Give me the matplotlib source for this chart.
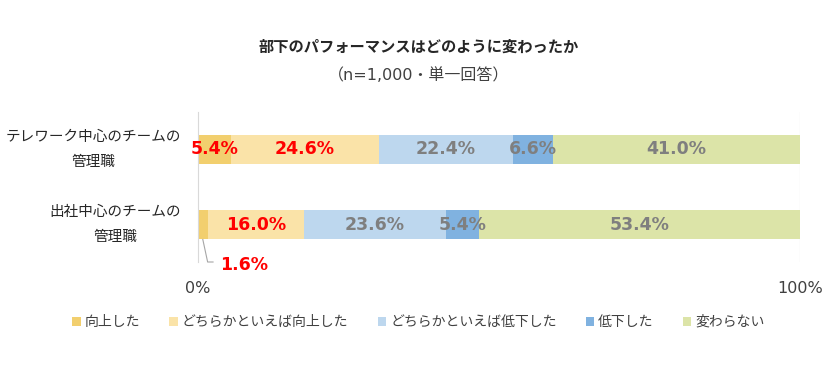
import numpy as np
import matplotlib.pyplot as plt

plt.rcParams['font.family'] = ['Noto Sans CJK JP', 'DejaVu Sans']

# data
groups = ['テレワーク中心のチームの\n管理職', '出社中心のチームの\n管理職']
answers = ['向上した', 'どちらかといえば向上した', 'どちらかといえば低下した', '低下した', '変わらない']
telework = [5.4, 24.6, 22.4, 6.6, 41.0]
office = [1.6, 16.0, 23.6, 5.4, 53.4]
colors = ['#F2CF6E', '#FAE3A8', '#BDD7EE', '#80B2E0', '#DCE4A8']
label_colors = ['#FF0000', '#FF0000', '#7F7F7F', '#7F7F7F', '#7F7F7F']

vals = np.array([telework, office])
y = np.arange(len(groups))

fig = plt.figure(figsize=(8.37, 3.79), dpi=100)
ax = fig.add_axes([198/837, 1 - 262/379, 602/837, 150/379])

left = np.zeros(len(groups))
for j, name in enumerate(answers):
    ax.barh(y, vals[:, j], left=left, height=0.39, color=colors[j], label=name)
    for i in range(len(groups)):
        v = vals[i, j]
        if v < 3:
            # small segment -> label under the bar with a leader line
            xc = left[i] + v / 2
            ax.plot([xc, xc + 0.8, left[i] + v + 0.9], [y[i] + 0.2, y[i] + 0.5, y[i] + 0.5],
                    color='#A6A6A6', lw=0.8, clip_on=False)
            ax.text(left[i] + v + 2.0, y[i] + 0.54, f'{v:.1f}%', ha='left', va='center',
                    fontsize=12.5, fontweight='bold', color=label_colors[j],
                    family='DejaVu Sans', clip_on=False)
        else:
            ax.text(left[i] + v / 2, y[i], f'{v:.1f}%', ha='center', va='center',
                    fontsize=12.5, fontweight='bold', color=label_colors[j],
                    family='DejaVu Sans')
    left += vals[:, j]

# category labels
for i, g in enumerate(groups):
    ax.annotate(g, xy=(0, y[i]), xytext=(-12, 0), textcoords='offset points',
                ha='right', va='center', multialignment='center', linespacing=2.0,
                fontsize=10.5, color='#262626', annotation_clip=False)

ax.set_xlim(0, 100)
ax.set_ylim(1.5, -0.5)
ax.set_xticks([0, 100])
ax.set_xticklabels(['0%', '100%'], fontsize=11.5, color='#404040', family='DejaVu Sans')
ax.set_yticks([])
ax.tick_params(axis='both', length=0)
ax.tick_params(axis='x', pad=14)
for s in ['top', 'right', 'bottom']:
    ax.spines[s].set_visible(False)
ax.spines['left'].set_color('#D9D9D9')
ax.axvline(100, color='#D9D9D9', lw=0.8, zorder=0)

fig.text(0.5, 1 - 47/379, '部下のパフォーマンスはどのように変わったか', ha='center', va='center',
         fontsize=11, fontweight='bold', color='#262626')
fig.text(0.5, 1 - 75/379, '（n=1,000・単一回答）', ha='center', va='center',
         fontsize=11.5, color='#404040', family=['DejaVu Sans', 'Noto Sans CJK JP'])

fig.legend(loc='center', bbox_to_anchor=(0.5, 1 - 322/379), ncol=5, frameon=False,
           fontsize=10, handlelength=0.6, handleheight=0.6, handletextpad=0.3,
           columnspacing=2.1, labelcolor='#404040')

fig.savefig('out.png', dpi=100)
